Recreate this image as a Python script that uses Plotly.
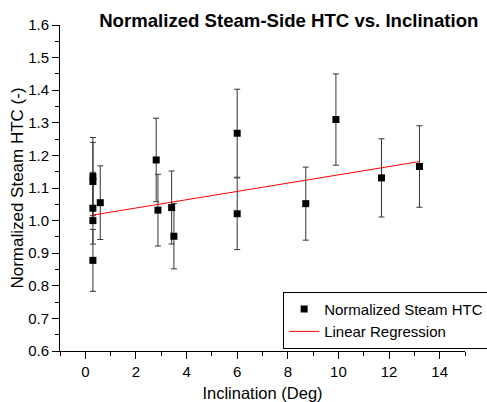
import plotly.graph_objects as go

# Data
incl = [0.3, 0.3, 0.3, 0.3, 0.3, 0.59, 2.8, 2.87, 3.41, 3.5, 6.0, 6.0, 8.71, 9.9, 11.7, 13.2]
htc = [1.135, 1.12, 1.038, 1.0, 0.878, 1.055, 1.186, 1.032, 1.04, 0.952, 1.268, 1.021, 1.052, 1.31, 1.131, 1.166]
err = [0.12, 0.12, 0.11, 0.0, 0.095, 0.113, 0.128, 0.11, 0.112, 0.1, 0.135, 0.11, 0.112, 0.14, 0.12, 0.125]

reg_x = [0.3, 13.2]
reg_y = [1.017, 1.181]

x_ticks = [0, 2, 4, 6, 8, 10, 12, 14]
y_ticks = [0.6, 0.7, 0.8, 0.9, 1.0, 1.1, 1.2, 1.3, 1.4, 1.5, 1.6]

font = "Liberation Sans, Arial, sans-serif"

fig = go.Figure()
fig.add_trace(go.Scatter(
    x=incl, y=htc, mode="markers", name="Normalized Steam HTC",
    marker=dict(symbol="square", size=7, color="black"),
    error_y=dict(type="data", array=err, visible=True, color="#333333", thickness=1, width=3),
))
fig.add_trace(go.Scatter(
    x=reg_x, y=reg_y, mode="lines", name="Linear Regression",
    line=dict(color="red", width=1),
))

fig.update_layout(
    width=487, height=402,
    margin=dict(l=60, r=22, t=25, b=51, autoexpand=False),
    paper_bgcolor="white", plot_bgcolor="white",
    font=dict(family=font, size=15, color="black"),
    title=dict(text="<b>Normalized Steam-Side HTC vs. Inclination</b>",
               x=0.593, xanchor="center", y=0.948, yanchor="middle",
               font=dict(size=18.6, family=font, color="black")),
    showlegend=True,
    legend=dict(x=0.551, y=0.182, xanchor="left", yanchor="top",
                bordercolor="black", borderwidth=1, bgcolor="white",
                font=dict(size=15, family=font), tracegroupgap=0,
                itemwidth=30),
)
fig.update_xaxes(
    range=[-1, 15], tickvals=x_ticks, ticktext=[str(v) for v in x_ticks],
    showline=True, linecolor="black", linewidth=1, mirror=False,
    showgrid=False, zeroline=False,
    ticks="outside", ticklen=7, tickwidth=1, tickcolor="black",
    minor=dict(ticks="outside", ticklen=4, dtick=1, tick0=0, tickcolor="black", showgrid=False),
    tickfont=dict(size=15),
    title=dict(text="Inclination (Deg)", font=dict(size=16.5), standoff=8),
)
fig.update_yaxes(
    range=[0.6, 1.6], tickvals=y_ticks, ticktext=[f"{v:.1f}" for v in y_ticks],
    showline=True, linecolor="black", linewidth=1, mirror=False,
    showgrid=False, zeroline=False,
    ticks="outside", ticklen=7, tickwidth=1, tickcolor="black",
    minor=dict(ticks="outside", ticklen=4, dtick=0.05, tick0=0.6, tickcolor="black", showgrid=False),
    tickfont=dict(size=15),
    title=dict(text="Normalized Steam HTC (-)", font=dict(size=17), standoff=0),
)

fig.write_html("out.html")
